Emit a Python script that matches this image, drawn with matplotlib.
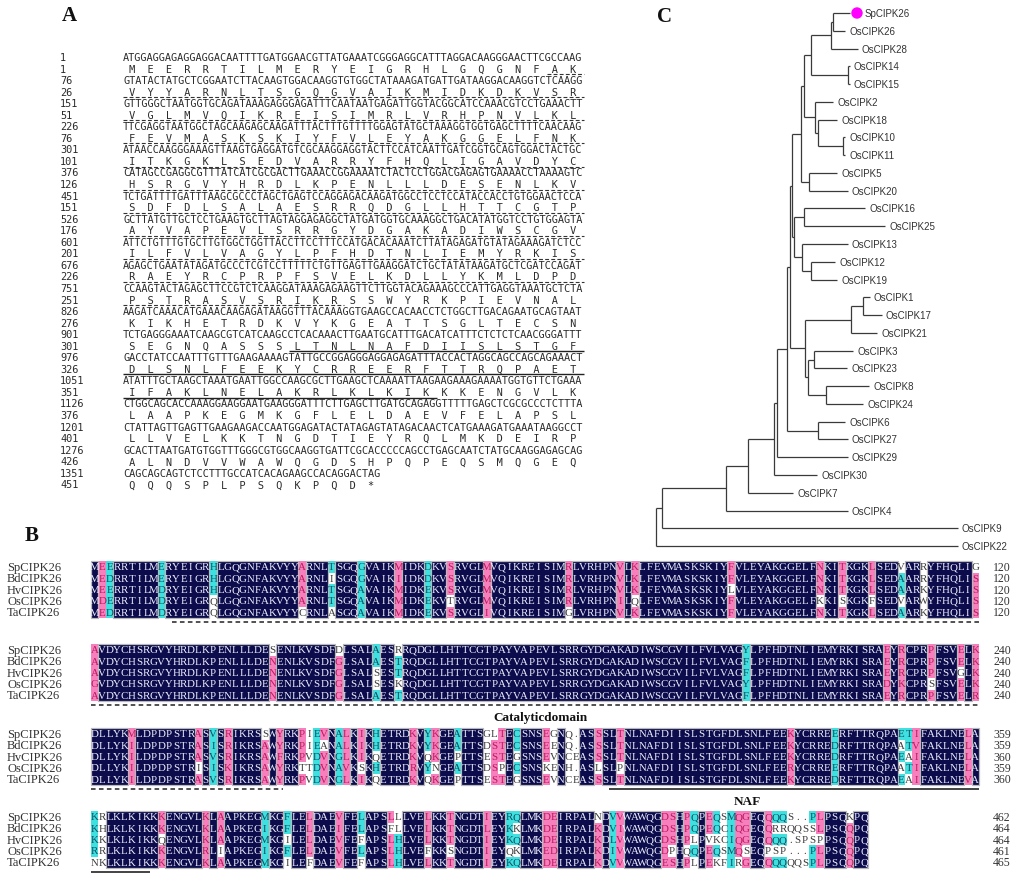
import matplotlib
matplotlib.use("Agg")
import matplotlib.pyplot as plt
from collections import Counter
from matplotlib.collections import LineCollection, PatchCollection
from matplotlib.patches import Rectangle, Circle

# ---------------- panel A: SpCIPK26 cDNA and deduced protein
dna_rows = [
    "ATGGAGGAGAGGAGGACAATTTTGATGGAACGTTATGAAATCGGGAGGCATTTAGGACAAGGGAACTTCGCCAAG",
    "GTATACTATGCTCGGAATCTTACAAGTGGACAAGGTGTGGCTATAAAGATGATTGATAAGGACAAGGTCTCAAGG",
    "GTTGGGCTAATGGTGCAGATAAAGAGGGAGATTTCAATAATGAGATTGGTACGGCATCCAAACGTCCTGAAACTT",
    "TTCGAGGTAATGGCTAGCAAGAGCAAGATTTACTTTGTTTTGGAGTATGCTAAAGGTGGTGAGCTTTTCAACAAG",
    "ATAACCAAGGGAAAGTTAAGTGAGGATGTCGCAAGGAGGTACTTCCATCAATTGATCGGTGCAGTGGACTACTGC",
    "CATAGCCGAGGCGTTTATCATCGCGACTTGAAACCGGAAAATCTACTCCTGGACGAGAGTGAAAACCTAAAAGTC",
    "TCTGATTTTGATTTAAGCGCCCTAGCTGAGTCCAGGAGACAAGATGGCCTCCTCCATACCACCTGTGGAACTCCA",
    "GCTTATGTTGCTCCTGAAGTGCTTAGTAGGAGAGGCTATGATGGTGCAAAGGCTGACATATGGTCCTGTGGAGTA",
    "ATTCTGTTTGTGCTTGTGGCTGGTTACCTTCCTTTCCATGACACAAATCTTATAGAGATGTATAGAAAGATCTCC",
    "AGAGCTGAATATAGATGCCCTCGTCCTTTTTCTGTTGAGTTGAAGGATCTGCTATATAAGATGCTCGATCCAGAT",
    "CCAAGTACTAGAGCTTCCGTCTCAAGGATAAAGAGAAGTTCTTGGTACAGAAAGCCCATTGAGGTAAATGCTCTA",
    "AAGATCAAACATGAAACAAGAGATAAGGTTTACAAAGGTGAAGCCACAACCTCTGGCTTGACAGAATGCAGTAAT",
    "TCTGAGGGAAATCAAGCGTCATCAAGCCTCACAAACTTGAATGCATTTGACATCATTTCTCTCTCAACGGGATTT",
    "GACCTATCCAATTTGTTTGAAGAAAAGTATTGCCGGAGGGAGGAGAGATTTACCACTAGGCAGCCAGCAGAAACT",
    "ATATTTGCTAAGCTAAATGAATTGGCCAAGCGCTTGAAGCTCAAAATTAAGAAGAAAGAAAATGGTGTTCTGAAA",
    "CTGGCAGCACCAAAGGAAGGAATGAAGGGATTTCTTGAGCTTGATGCAGAGGTTTTTGAGCTCGCGCCCTCTTTA",
    "CTATTAGTTGAGTTGAAGAAGACCAATGGAGATACTATAGAGTATAGACAACTCATGAAAGATGAAATAAGGCCT",
    "GCACTTAATGATGTGGTTTGGGCGTGGCAAGGTGATTCGCACCCCCAGCCTGAGCAATCTATGCAAGGAGAGCAG",
    "CAGCAGCAGTCTCCTTTGCCATCACAGAAGCCACAGGACTAG",
]
protein = (
    "MEERRTILMERYEIGRHLGQGNFAKVYYARNLTSGQGVAIKMIDKDKVSRVGLMVQIKREISIMRLVRHPNVLKL"
    "FEVMASKSKIYFVLEYAKGGELFNKITKGKLSEDVARRYFHQLIGAVDYCHSRGVYHRDLKPENLLLDESENLKV"
    "SDFDLSALAESRRQDGLLHTTCGTPAYVAPEVLSRRGYDGAKADIWSCGVILFVLVAGYLPFHDTNLIEMYRKIS"
    "RAEYRCPRPFSVELKDLLYKMLDPDPSTRASVSRIKRSSWYRKPIEVNALKIKHETRDKVYKGEATTSGLTECSN"
    "SEGNQASSSLTNLNAFDIISLSTGFDLSNLFEEKYCRREERFTTRQPAETIFAKLNELAKRLKLKIKKKENGVLK"
    "LAAPKEGMKGFLELDAEVFELAPSLLLVELKKTNGDTIEYRQLMKDEIRPALNDVVWAWQGDSHPQPEQSMQGEQ"
    "QQQSPLPSQKPQD*"
)
a_dashed = (24, 262)   # underlined residues (dashed) in panel A
a_solid = (310, 367)   # underlined residues (solid) in panel A

# ---------------- panel B: alignment
species = ["SpCIPK26", "BdCIPK26", "HvCIPK26", "OsCIPK26", "TaCIPK26"]
block1 = [
    "MEERRTILMERYEIGRHLGQGNFAKVYYARNLTSGQGVAIKMIDKDKVSRVGLMVQIKREISIMRLVRHP"
    "NVLKLFEVMASKSKIYFVLEYAKGGELFNKITKGKLSEDVARRYFHQLIG",
    "MEDRRTILMERYEIGRHLGQGNFAKVYYARNLISGQGVAIKIIDKDKVSRVGLMVQIKREISIMRLVRHP"
    "NVLKLFEVMASKSKIYFVLEYAKGGELFNKITKGKLSEDAARRYFHQLIS",
    "MEERRTILMDRYEIGRHLGQGNFAKVYYARNLTSGQAVAIKMIDKEKVSRVGLMVQIKREISIMRLVRHP"
    "NVLKLFEVMASKSKIYLVLEYAKGGELFNKITKGKLSEDAARKYFHQLIS",
    "MDERRTILMDRYEIGRQLGQGNFAKVYYARNLTSGQAVAIKMIDKEKVTRVGLMVQIKREISIMRLVRHP"
    "NILQLFEVMASKSKIYFVLEYAKGGELFKKISKGKFSEDVARWYFHQLIS",
    "MEDRRTILMDRYEIGRQLGQGNFAKVYYCRNLASGQAVAIKMIDKEKVSRVGLIVQIKREISIMGLVRHP"
    "NVLKLFEVMASKSKIYFVLEYAKGGELFNKITKGKLSEDAARKYFHQLIS",
]
block2 = [
    "AVDYCHSRGVYHRDLKPENLLLDESENLKVSDFDLSALAESRRQDGLLHTTCGTPAYVAPEVLSRRGYDG"
    "AKADIWSCGVILFVLVAGYLPFHDTNLIEMYRKISRAEYRCPRPFSVELK",
    "AVDYCHSRGVYHRDLKPENLLLDENENLKVSDFGLSALAESTRQDGLLHTTCGTPAYVAPEVLSRRGYDG"
    "AKADIWSCGVILFVLVAGFLPFHDTNLIEMYRKISRAEYRCPRPFSVELK",
    "AVDYCHSRGVYHRDLKPENLLLDENENLKVSDFGLSALSESTRQDGLLHTTCGTPAYVAPEVLSRRGYDG"
    "AKADIWSCGVILFVLVAGFLPFHDTNLIEMYRKISRAEYRCPRPFSVGLK",
    "GVDYCHSRGVYHRDLKPENLLLDENENLKVSDFGLSALSESKRQDGLLHTTCGTPAYVAPEVLSRRGYDG"
    "AKADIWSCGVILFVLVAGYLPFHDTNLIEMYRKISRADYKCPRSFSVELK",
    "AVDYCHSRGVYHRDLKPENLLLDENENLKVSDFGLSALAESTRQDGLLHTTCGTPAYVAPEVLSRRGYDG"
    "AKADIWSCGVILFVLVAGFLPFHDTNLIEMYRKISRAEYRCPRPFSVELR",
]
block3 = [
    "DLLYKMLDPDPSTRASVSRIKRSSWYRKPIEVNALKIKHETRDKVYKGEATTSGLTECSNSEGNQ.ASSS"
    "LTNLNAFDIISLSTGFDLSNLFEEKYCRREERFTTRQPAETIFAKLNELA",
    "DLLYKILDPDPSTRASISRIKRSAWYRKPIEANALKIKHETRDKVYKGEATTSDSTECSNSEENQ.ASSS"
    "LTNLNAFDIISLSTGFDLSNLFEEKYCRREDRFTTRQPAATVFAKLNELA",
    "DLLYKILDPDPSTRASVSRIKRSAWFRKPVDVNGLKIKQETRDKVQKGEPTTSESTEGSNSEVNCEASSS"
    "LTNLNAFDIISLSTGFDLSNLFEEKYCRREDRFTTRQPAEAIFAKLNELA",
    "DLLYKILDPDPSTRISISKIKRSAWYRKTTDVNAVKSKHETRDRVYNGEATTSDSPECSNSKENH.ASLS"
    "LPNLNAFDIISLSTGFDLSNLFEERYCRREERFTTRQPAATIFAKLNELA",
    "DLLYKILDPDPSTRASVSRIKRSAWYRKPVDVNGLKIKQETRDKVQKGEPTTSESTEGSNSEVNCEASSS"
    "LTNLNAFDIISLSTGFDLSNLFEEKYCRREDRFTTRQPAEAIFAKLNEVA",
]
block4 = [
    "KRLKLKIKKKENGVLKLAAPKEGMKGFLELDAEVFELAPSLLLVELKKTNGDTIEYRQLMKDEIRPALND"
    "VVWAWQGDSHPQPEQSMQGEQQQQS..PLPSQKPQ",
    "KHLKLKIKKKENGVLKLAAPKEGIKGFLELDAEIFELAPSFLLVELKKTNGDTLEYKKLMKDEIRPALKD"
    "VIWAWQGDSHPQPEQCIQGEQQRRQQSSLPSQQPQ",
    "KKLKLKIKKQENGVLKLAAPKEGMKGILELDAEVFEFAPSLHLVELKKTNGDTIEYKQLMKDEIRPALKD"
    "LVWAWQGDSHPLPVKCIQGEQQQQ.SPSPPSQQPQ",
    "RRLKLKIKKKENGVLRLIAPKEGIKGFLELDAEVFELAPSLHLVEFKKSNGDTIEYQKLMKEDIRPALKD"
    "IVWAWQGDPHQQPEQSMQSEQPSP...PLPSQQPQ",
    "NKLKLKIKKKENGVLKLAAPKEGMKGILEFDAEVFEFAPSLHLVELKKTNGDTIEYKQLMKDEIRPALKD"
    "VVWAWQGESHPLPEKFIRGEQQQQQQSPLPSQQPQ",
]
blocks = [block1, block2, block3, block4]
block_ends = [[120] * 5, [240] * 5, [359, 359, 360, 359, 360], [462, 464, 464, 461, 465]]
sp_first_residue = [1, 121, 241, 360]
catalytic = (12, 266)   # dashed line in the alignment
naf = (310, 367)        # solid line in the alignment
similar = ["ILVM", "DE", "KR", "AG", "FYW"]

# ---------------- panel C: tree
leaf_names = [
    "SpCIPK26", "OsCIPK26", "OsCIPK28", "OsCIPK14", "OsCIPK15", "OsCIPK2",
    "OsCIPK18", "OsCIPK10", "OsCIPK11", "OsCIPK5", "OsCIPK20", "OsCIPK16",
    "OsCIPK25", "OsCIPK13", "OsCIPK12", "OsCIPK19", "OsCIPK1", "OsCIPK17",
    "OsCIPK21", "OsCIPK3", "OsCIPK23", "OsCIPK8", "OsCIPK24", "OsCIPK6",
    "OsCIPK27", "OsCIPK29", "OsCIPK30", "OsCIPK7", "OsCIPK4", "OsCIPK9",
    "OsCIPK22",
]
leaf_tips = [194, 189, 202, 194, 194, 177, 181, 189, 189, 181, 192, 209, 229,
             192, 179, 181, 214, 226, 221, 197, 191, 213, 207, 189, 192, 192,
             161, 137, 192, 302, 302]
node_depth = {
    "sp": 177, "b": 175, "c1415": 192, "c": 155, "c1011": 187, "c18": 162,
    "c2": 159, "d": 148, "c520": 153, "e": 145, "c1625": 148, "c1219": 155,
    "c13": 146, "f": 138, "r": 136, "c117": 207, "c21": 195, "c323": 158,
    "c824": 170, "h": 152, "i": 149, "q": 134, "c627": 162, "p": 131,
    "o": 121, "n": 118, "m": 92, "l": 70, "k": 6, "root": 0,
}
node_children = {
    "sp": [0, 1], "b": ["sp", 2], "c1415": [3, 4], "c": ["b", "c1415"],
    "c1011": [7, 8], "c18": [6, "c1011"], "c2": [5, "c18"], "d": ["c", "c2"],
    "c520": [9, 10], "e": ["d", "c520"], "c1625": [11, 12], "c1219": [14, 15],
    "c13": [13, "c1219"], "f": ["c1625", "c13"], "r": ["e", "f"],
    "c117": [16, 17], "c21": ["c117", 18], "c323": [19, 20], "c824": [21, 22],
    "h": ["c323", "c824"], "i": ["c21", "h"], "q": ["r", "i"],
    "c627": [23, 24], "p": ["q", "c627"], "o": ["p", 25], "n": ["o", 26],
    "m": ["n", 27], "l": ["m", 28], "k": ["l", 29], "root": ["k", 30],
}

NAVY, PINK, CYAN = "#0c0c4c", "#f77fbd", "#3fe0e0"
TXT = {"navy": "#eeeeff", "pink": "#b81a5c", "cyan": "#0b4f63", None: "#3a3a3a"}
BG = {"navy": NAVY, "pink": PINK, "cyan": CYAN}


def alike(a, b):
    return a == b or any(a in g and b in g for g in similar)


fig = plt.figure(figsize=(10.24, 8.87), dpi=100)
ax = fig.add_axes([0, 0, 1, 1])
ax.set_xlim(0, 1024)
ax.set_ylim(887, 0)
ax.axis("off")

label_kw = dict(fontsize=15, fontweight="bold", family="Liberation Serif",
                va="center", ha="left", color="#111111")
ax.text(62, 16, "A", **label_kw)
ax.text(25, 536, "B", **label_kw)
ax.text(657, 17, "C", **label_kw)

# ---- panel A
A_XN, A_XS, A_Y0, A_DY, A_CW = 60, 123, 58, 11.55, 6.15
mono = dict(family="DejaVu Sans Mono", fontsize=7.35, va="center", ha="left",
            color="#2a2a2a")
ulines_dash, ulines_solid = [], []
for i, row in enumerate(dna_rows):
    y = A_Y0 + 2 * i * A_DY
    ax.text(A_XN, y, str(1 + 75 * i), **mono)
    ax.text(A_XS, y, row, **mono)
    prot = protein[25 * i:25 * i + 25]
    yp = y + A_DY
    ax.text(A_XN, yp, str(1 + 25 * i), **mono)
    ax.text(A_XS, yp, " " + "  ".join(prot), **mono)
    first = 25 * i + 1
    last = first + len(prot) - 1
    for (r0, r1), store in ((a_dashed, ulines_dash), (a_solid, ulines_solid)):
        s, e = max(r0, first), min(r1, last)
        if s <= e:
            x0 = A_XS + 3 * (s - first) * A_CW
            x1 = A_XS + 3 * (e - first + 1) * A_CW
            store.append([(x0, yp + 5.6), (x1, yp + 5.6)])
ax.add_collection(LineCollection(ulines_dash, colors="#333333", linewidths=0.8,
                                 linestyles=(0, (3.5, 2.0))))
ax.add_collection(LineCollection(ulines_solid, colors="#222222", linewidths=1.0))

# ---- panel B
B_X0, CW, RDY, CH = 91, 7.4, 11.3, 11.3
block_y = [568, 651, 735, 818]
aln = dict(family="Liberation Serif", fontsize=7.8, ha="center", va="center")
cells, cell_cols, boxes = [], [], []
dash_segs, solid_segs = [], []
for b, rows in enumerate(blocks):
    y0 = block_y[b]
    ncol = max(len(r) for r in rows)
    navy_run = None
    for c in range(ncol + 1):
        chars = [r[c] if c < len(r) else "." for r in rows] if c < ncol else []
        res = [ch for ch in chars if ch != "."]
        level, top = None, None
        if res:
            top, n = Counter(res).most_common(1)[0]
            level = {5: "navy", 4: "pink", 3: "cyan"}.get(n)
        # boxes around fully conserved runs
        if level == "navy" and navy_run is None:
            navy_run = c
        elif level != "navy" and navy_run is not None:
            boxes.append(Rectangle((B_X0 + navy_run * CW, y0 - CH / 2),
                                   (c - navy_run) * CW, 4 * RDY + CH))
            navy_run = None
        for r, ch in enumerate(chars):
            lv = level if (ch != "." and alike(ch, top)) else None
            yc = y0 + r * RDY
            xc = B_X0 + (c + 0.5) * CW
            if lv:
                cells.append(Rectangle((B_X0 + c * CW, yc - CH / 2), CW, CH))
                cell_cols.append(BG[lv])
            ax.text(xc, yc, ch, color=TXT[lv], **aln)
    for r, name in enumerate(species):
        yc = y0 + r * RDY
        ax.text(7, yc, name, family="Liberation Serif", fontsize=9,
                va="center", ha="left", color="#333333")
        ax.text(993, yc, str(block_ends[b][r]), family="Liberation Serif",
                fontsize=8.5, va="center", ha="left", color="#333333")
    # domain lines from Sp residue numbering
    resnum, k = [], sp_first_residue[b]
    for ch in rows[0]:
        resnum.append(k if ch != "." else None)
        if ch != ".":
            k += 1
    yl = y0 + 4 * RDY + CH / 2 + 4
    for (r0, r1), store in ((catalytic, dash_segs), (naf, solid_segs)):
        cols = [c for c, rn in enumerate(resnum) if rn is not None and r0 <= rn <= r1]
        if cols:
            store.append([(B_X0 + cols[0] * CW, yl), (B_X0 + (cols[-1] + 1) * CW, yl)])

ax.add_collection(PatchCollection(cells, facecolors=cell_cols, edgecolors="none",
                                  zorder=0))
ax.add_collection(PatchCollection(boxes, facecolors="none", edgecolors="#b8b8b8",
                                  linewidths=0.9, zorder=1))
ax.add_collection(LineCollection(dash_segs, colors="#222222", linewidths=1.1,
                                 linestyles=(0, (3.0, 2.2))))
ax.add_collection(LineCollection(solid_segs, colors="#111111", linewidths=1.1))
dom_kw = dict(family="Liberation Serif", fontsize=9.5, fontweight="bold",
              ha="center", va="center", color="#111111")
ax.text(540, block_y[1] + 4 * RDY + 22, "Catalyticdomain", **dom_kw)
ax.text(747, block_y[2] + 4 * RDY + 22, "NAF", **dom_kw)

# ---- panel C
T_X0, L_Y0, L_DY = 656, 14, 17.77


def node_y(n):
    if isinstance(n, int):
        return L_Y0 + n * L_DY
    ys = [node_y(ch) for ch in node_children[n]]
    return (ys[0] + ys[-1]) / 2


def node_x(n):
    return T_X0 + (leaf_tips[n] if isinstance(n, int) else node_depth[n])


segs = []
for n, kids in node_children.items():
    xn = node_x(n)
    ys = [node_y(ch) for ch in kids]
    segs.append([(xn, min(ys)), (xn, max(ys))])
    for ch, yk in zip(kids, ys):
        segs.append([(xn, yk), (node_x(ch), yk)])
ax.add_collection(LineCollection(segs, colors="#3a3a3a", linewidths=0.9))

for i, name in enumerate(leaf_names):
    x, y = node_x(i), node_y(i)
    if i == 0:
        ax.add_patch(Circle((x + 7, y), 5, color="#ff00ff", zorder=3))
        x += 11
    ax.text(x + 4, y, name, family="Liberation Sans", fontsize=7,
            va="center", ha="left", color="#333333")

fig.savefig("out.png", dpi=100)
